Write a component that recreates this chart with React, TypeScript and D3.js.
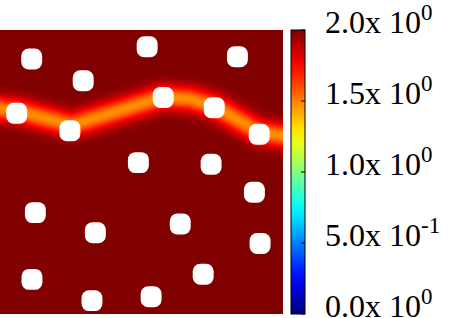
import { useMemo } from "react";
import * as d3 from "d3";

// grid domain is 0..100 in x and y (y up, as in the source plot)
const holeX = [11.2, 29.4, 52.0, 83.9, 5.9, 24.7, 57.7, 75.7, 91.6, 48.9, 74.6, 89.9, 12.5, 33.7, 63.7, 91.9, 11.3, 71.8, 32.5, 53.4];
const holeY = [89.8, 82.1, 94.1, 90.6, 70.7, 64.5, 76.2, 72.6, 63.3, 53.3, 52.7, 42.9, 35.7, 28.6, 31.7, 24.8, 12.2, 14.0, 4.7, 6.1];

// centre line of the low-value valley
const ridgeX = [0, 6, 15.9, 25.4, 41.7, 57.6, 67.1, 75.6, 84.8, 91.5, 100];
const ridgeY = [72.2, 71.5, 69.0, 66.5, 71.5, 76.4, 75.7, 73.2, 67.9, 64.1, 62.7];
const ridgeMin = 1.47; // value on the ridge line
const baseValue = 2.0;

const cbTicks = [0, 0.5, 1.0, 1.5, 2.0];
const cbLabels = [
  ["0.0x 10", "0"],
  ["5.0x 10", "-1"],
  ["1.0x 10", "0"],
  ["1.5x 10", "0"],
  ["2.0x 10", "0"],
];

const W = 449;
const H = 318;
const plot = { left: 0, top: 30, right: 283, bottom: 314 };
const cb = { left: 291, right: 305 };

function jet(t: number): [number, number, number] {
  const c = (v: number) => Math.max(0, Math.min(1, v));
  return [c(1.5 - Math.abs(4 * t - 3)), c(1.5 - Math.abs(4 * t - 2)), c(1.5 - Math.abs(4 * t - 1))];
}

export default function App() {
  const x = d3.scaleLinear().domain([0, 100]).range([plot.left, plot.right]);
  const y = d3.scaleLinear().domain([0, 100]).range([plot.bottom, plot.top]);
  const zc = d3.scaleLinear().domain([0, 2]).range([0, 1]).clamp(true);
  const cy = d3.scaleLinear().domain([0, 2]).range([plot.bottom, plot.top]);

  const href = useMemo(() => {
    const w = Math.round(plot.right - plot.left);
    const h = Math.round(plot.bottom - plot.top);
    const canvas = document.createElement("canvas");
    canvas.width = w;
    canvas.height = h;
    const ctx = canvas.getContext("2d")!;
    const img = ctx.createImageData(w, h);
    const pts = ridgeX.map((d, i) => [x(d) - plot.left, y(ridgeY[i]) - plot.top]);
    const sigma = 8.5;
    for (let py = 0; py < h; py++) {
      for (let px = 0; px < w; px++) {
        const X = px + 0.5, Y = py + 0.5;
        let best = Infinity;
        for (let i = 0; i < pts.length - 1; i++) {
          const [ax, ay] = pts[i], [bx, by] = pts[i + 1];
          const dx = bx - ax, dy = by - ay;
          let t = ((X - ax) * dx + (Y - ay) * dy) / (dx * dx + dy * dy);
          t = Math.max(0, Math.min(1, t));
          const ex = ax + t * dx - X, ey = ay + t * dy - Y;
          const d2 = ex * ex + ey * ey;
          if (d2 < best) best = d2;
        }
        const v = baseValue - (baseValue - ridgeMin) * Math.exp(-best / (2 * sigma * sigma));
        const [r, g, b] = jet(zc(v));
        const k = (py * w + px) * 4;
        img.data[k] = Math.round(r * 255);
        img.data[k + 1] = Math.round(g * 255);
        img.data[k + 2] = Math.round(b * 255);
        img.data[k + 3] = 255;
      }
    }
    ctx.putImageData(img, 0, 0);
    return canvas.toDataURL();
  }, []);

  const stops = d3.range(0, 1.0001, 0.05).map((t) => {
    const [r, g, b] = jet(t);
    return { off: t, col: d3.rgb(r * 255, g * 255, b * 255).formatHex() };
  });

  const hs = x(7.4) - x(0);

  return (
    <svg width={W} height={H} style={{ position: "absolute", left: 0, top: 0 }} fontFamily="'Liberation Serif', serif">
      <defs>
        <linearGradient id="jet" x1="0" y1="1" x2="0" y2="0">
          {stops.map((s, i) => (
            <stop key={i} offset={s.off} stopColor={s.col} />
          ))}
        </linearGradient>
      </defs>
      <rect width={W} height={H} fill="#fff" />
      <image href={href} x={plot.left} y={plot.top} width={plot.right - plot.left} height={plot.bottom - plot.top} preserveAspectRatio="none" style={{ imageRendering: "pixelated" }} />
      {holeX.map((hx, i) => (
        <rect key={i} x={x(hx) - hs / 2} y={y(holeY[i]) - hs / 2} width={hs} height={hs} rx={7.5} fill="#fff" />
      ))}
      {/* colour box */}
      <rect x={cb.left} y={plot.top} width={cb.right - cb.left} height={plot.bottom - plot.top} fill="url(#jet)" stroke="#000" strokeWidth={1} />
      {cbTicks.map((t, i) => (
        <g key={i}>
          <line x1={cb.right - 4} x2={cb.right} y1={cy(t)} y2={cy(t)} stroke="#000" strokeWidth={1} />
          <text x={325} y={cy(t) + 3} fontSize={32} fill="#000">
            {cbLabels[i][0]}
            <tspan fontSize={23} dy={-13}>{cbLabels[i][1]}</tspan>
          </text>
        </g>
      ))}
    </svg>
  );
}
